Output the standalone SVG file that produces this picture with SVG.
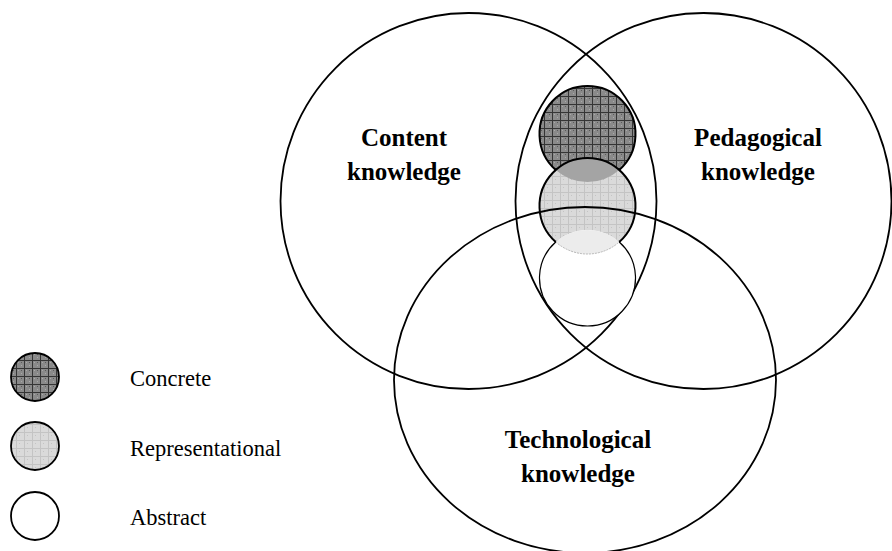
<svg xmlns="http://www.w3.org/2000/svg" width="892" height="551" viewBox="0 0 892 551">
<defs>
<pattern id="dark" patternUnits="userSpaceOnUse" width="8" height="8">
<rect width="8" height="8" fill="#8a8a8a"/>
<rect x="2" y="2" width="1" height="1" fill="#aaaaaa"/>
<rect x="5" y="5" width="1" height="1" fill="#aaaaaa"/>
<rect x="5" y="2" width="1" height="1" fill="#5a5a5a"/>
<path d="M0 0.5H8M0.5 0V8" stroke="#353535" stroke-width="1"/>
</pattern>
<pattern id="light" patternUnits="userSpaceOnUse" width="8" height="8">
<rect width="8" height="8" fill="#dadada"/>
<rect x="3" y="3" width="1" height="1" fill="#c4c4c4"/>
<path d="M0 0.5H8M0.5 0V8" stroke="#c4c4c4" stroke-width="1"/>
</pattern>
<style>
.big{fill:none;stroke:#000;stroke-width:1.8}
.lbl{font-family:"Liberation Serif","Times New Roman",serif;font-weight:bold;font-size:25px;text-anchor:middle;fill:#000}
.leg{font-family:"Liberation Serif","Times New Roman",serif;font-size:22.5px;fill:#000}
.s2{fill:none;stroke:#000;stroke-width:2}
</style>
</defs>
<g id="content"><circle class="big" cx="468.5" cy="201" r="188"/></g>
<g id="pedagogical"><circle class="big" cx="703.5" cy="201" r="188"/></g>
<g id="levels">
<circle cx="587.5" cy="134" r="48" fill="url(#dark)"/>
<circle cx="587.5" cy="206" r="48" fill="url(#light)"/>
<path d="M555.75,170 A48,48 0 0 0 619.25,170 A48,48 0 0 0 555.75,170Z" fill="#a4a4a4"/>
<circle cx="587.5" cy="278" r="48" fill="#fff"/>
<path d="M555.75,242 A48,48 0 0 0 619.25,242 A48,48 0 0 0 555.75,242Z" fill="#ececec"/>
<path d="M555.75,242 A48,48 0 0 0 619.25,242" fill="none" stroke="#b5b5b5" stroke-width="1" stroke-dasharray="2 1"/>
<path class="s2" d="M555.75,170 A48,48 0 1 1 619.25,170"/>
<path class="s2" d="M555.75,242 A48,48 0 1 1 619.25,242"/>
<path d="M555.75,242 A48,48 0 1 0 619.25,242" fill="none" stroke="#000" stroke-width="1.2"/>
</g>
<g id="technological"><ellipse class="big" cx="585" cy="380" rx="191" ry="173"/></g>
<g id="labels">
<text class="lbl" x="404" y="146">Content</text>
<text class="lbl" x="404" y="180">knowledge</text>
<text class="lbl" x="758" y="146">Pedagogical</text>
<text class="lbl" x="758" y="180">knowledge</text>
<text class="lbl" x="578" y="448">Technological</text>
<text class="lbl" x="578" y="482">knowledge</text>
</g>
<g id="legend">
<circle cx="35" cy="377" r="24" fill="url(#dark)" stroke="#000" stroke-width="1.8"/>
<circle cx="35" cy="446" r="24" fill="url(#light)" stroke="#000" stroke-width="1.8"/>
<circle cx="35" cy="516" r="24" fill="#fff" stroke="#000" stroke-width="1.8"/>
<text class="leg" x="130" y="386">Concrete</text>
<text class="leg" x="130" y="456">Representational</text>
<text class="leg" x="130" y="525">Abstract</text>
</g>
</svg>
